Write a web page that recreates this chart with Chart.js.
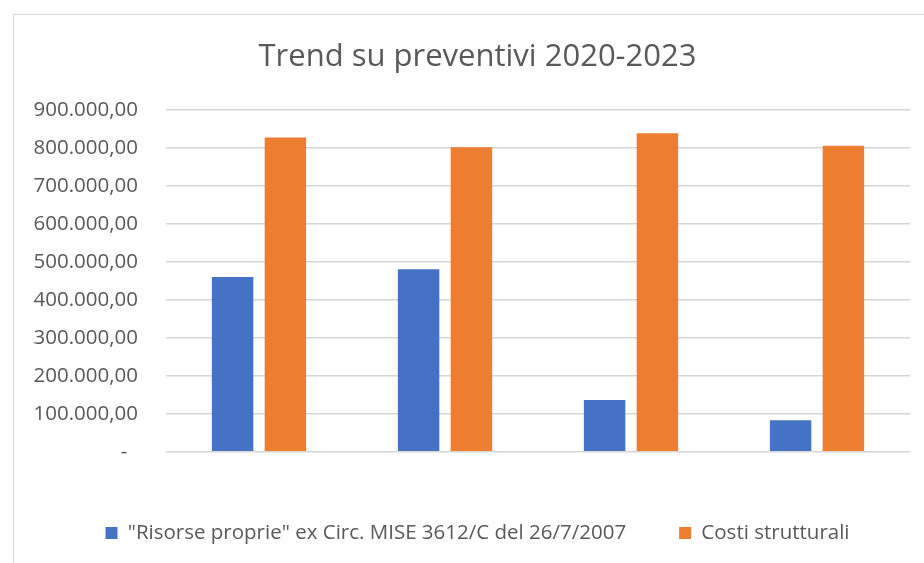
<!DOCTYPE html>
<html>
<head>
<meta charset="utf-8">
<script src="https://cdn.jsdelivr.net/npm/chart.js@4"></script>
<style>
  html, body { margin: 0; padding: 0; background: #fff; }
  #wrap { position: relative; width: 924px; height: 563px; overflow: hidden; }
  #frame { position: absolute; left: 13px; top: 14px; width: 1000px; height: 700px;
           border-left: 1.5px solid #d9d9d9; border-top: 1.5px solid #d9d9d9; }
  canvas { position: absolute; left: 0; top: 0; }
</style>
</head>
<body>
<div id="wrap">
  <div id="frame"></div>
  <canvas id="c" width="924" height="563"></canvas>
</div>
<script>
const categories = ['Prev. 2020', 'Prev. 2021', 'Prev. 2022', 'Prev. 2023'];
const risorseProprie = [460000, 480000, 136000, 83000];
const costiStrutturali = [827000, 801000, 838000, 805000];
const seriesNames = ['"Risorse proprie" ex Circ. MISE 3612/C del 26/7/2007', 'Costi strutturali'];
const titleText = 'Trend su preventivi 2020-2023';

const FONT = '"Open Sans", Lato, sans-serif';
const TEXT = '#595959';

function fmt(v) {
  if (v === 0) return '-  ';
  const s = Math.round(v).toString().replace(/\B(?=(\d{3})+(?!\d))/g, '.');
  return s + ',00';
}

const widenLabelClip = {
  id: 'widenLabelClip',
  afterLayout(chart) { chart.scales.y.left = 14; }
};

new Chart(document.getElementById('c'), {
  type: 'bar',
  data: {
    labels: categories,
    datasets: [
      { label: seriesNames[0], data: risorseProprie, backgroundColor: '#4472C4',
        categoryPercentage: 0.568, barPercentage: 0.785 },
      { label: seriesNames[1], data: costiStrutturali, backgroundColor: '#ED7D31',
        categoryPercentage: 0.568, barPercentage: 0.785 }
    ]
  },
  plugins: [widenLabelClip],
  options: {
    responsive: false,
    animation: false,
    devicePixelRatio: 1,
    layout: { padding: { top: 14, left: 45, right: 14, bottom: 9.75 } },
    plugins: {
      tooltip: { enabled: false },
      title: {
        display: true, text: titleText, color: TEXT,
        font: { family: FONT, size: 31, weight: 'normal', lineHeight: 1.2 },
        padding: { top: 24.4, bottom: 34.1 }
      },
      legend: {
        position: 'bottom',
        labels: {
          color: TEXT, boxWidth: 12, boxHeight: 12, padding: 53,
          font: { family: FONT, size: 20.5 }
        }
      }
    },
    scales: {
      x: {
        grid: { display: false },
        border: { display: false },
        ticks: { color: TEXT, padding: 18, font: { family: FONT, size: 20.3 } },
        afterFit: (s) => { s.height = 18; }
      },
      y: {
        min: 0, max: 900000,
        grid: { color: '#d6d6d6', lineWidth: 1.5, drawTicks: false },
        border: { display: false },
        ticks: { stepSize: 100000, color: TEXT, padding: 28,
                 font: { family: FONT, size: 20.5 }, callback: (v) => fmt(v) },
        afterFit: (s) => { s.width = 121; }
      }
    }
  }
});
</script>
</body>
</html>
